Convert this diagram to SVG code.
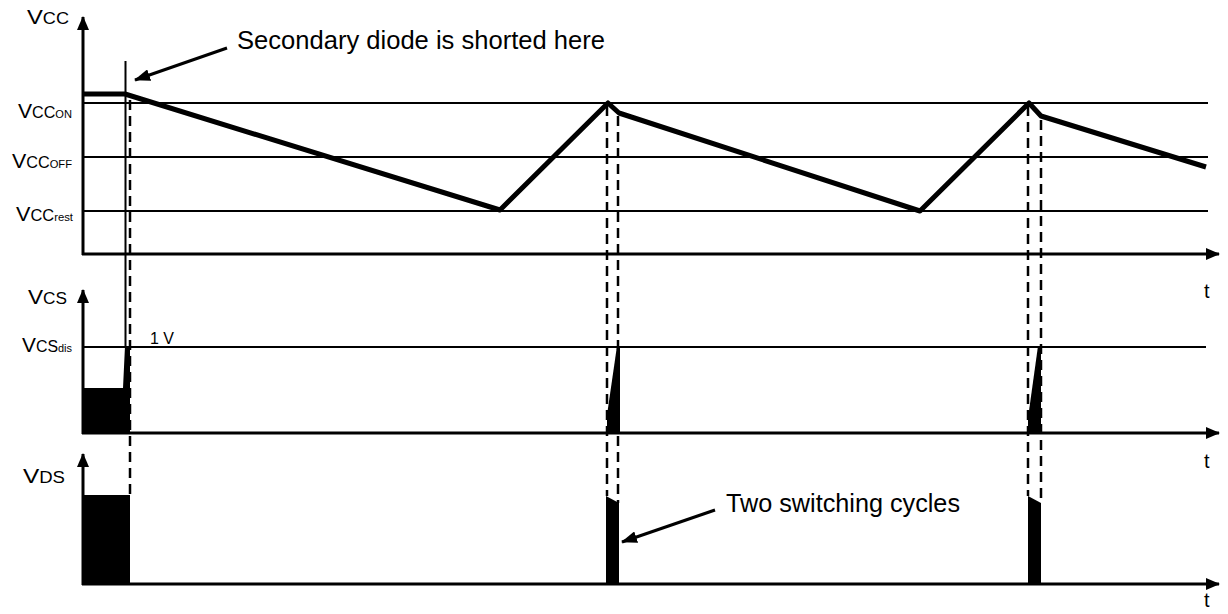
<svg xmlns="http://www.w3.org/2000/svg" width="1228" height="614" viewBox="0 0 1228 614">
<defs>
<marker id="ah" markerUnits="userSpaceOnUse" markerWidth="16" markerHeight="12" refX="15" refY="6" orient="auto"><path d="M0,0 L16,6 L0,12 Z" fill="#000"/></marker>
<marker id="ax" markerUnits="userSpaceOnUse" markerWidth="14" markerHeight="12" refX="13" refY="6" orient="auto"><path d="M0,0 L14,6 L0,12 Z" fill="#000"/></marker>
<style>
.axis{stroke:#000;stroke-width:3;fill:none;marker-end:url(#ax)}
.ref{stroke:#000;stroke-width:2;fill:none}
.wave{stroke:#000;stroke-width:5;fill:none;stroke-linejoin:round}
.dash{stroke:#000;stroke-width:2.5;fill:none;stroke-dasharray:10 6}
.blk{fill:#000;stroke:none}
.lbl{font-family:"Liberation Sans",Arial,sans-serif;fill:#000}
.ann{stroke:#000;stroke-width:3;fill:none;marker-end:url(#ah)}
</style>
</defs>
<rect width="1228" height="614" fill="#fff"/>

<g id="vcc-panel">
<line class="ref" x1="82" y1="103" x2="1208" y2="103"/>
<line class="ref" x1="82" y1="157" x2="1208" y2="157"/>
<line class="ref" x1="82" y1="211" x2="1208" y2="211"/>
<line class="axis" x1="83" y1="255" x2="83" y2="17"/>
<line class="axis" x1="82" y1="254" x2="1219" y2="254"/>
<polyline class="wave" points="83,94 125,94 500,210 608,103 619,113 920,211 1029,103 1041,116 1206,167"/>
<text class="lbl" x="27" y="24" textLength="42" lengthAdjust="spacingAndGlyphs"><tspan font-size="21">V</tspan><tspan font-size="16">CC</tspan></text>
<text class="lbl" x="18" y="118" textLength="54" lengthAdjust="spacingAndGlyphs"><tspan font-size="21">V</tspan><tspan font-size="16">CC</tspan><tspan font-size="11">ON</tspan></text>
<text class="lbl" x="12" y="168" textLength="60" lengthAdjust="spacingAndGlyphs"><tspan font-size="21">V</tspan><tspan font-size="16">CC</tspan><tspan font-size="11">OFF</tspan></text>
<text class="lbl" x="16" y="221" textLength="57" lengthAdjust="spacingAndGlyphs"><tspan font-size="21">V</tspan><tspan font-size="16">CC</tspan><tspan font-size="11">rest</tspan></text>
<text class="lbl" x="1204" y="298" font-size="20">t</text>
</g>

<g id="vcs-panel">
<line class="ref" x1="82" y1="347" x2="1206" y2="347"/>
<polygon class="blk" points="82,388 123,388 125,346 130,346 130,433 82,433"/>
<polygon class="blk" points="607,433 607,415 617,346 620,346 620,433"/>
<polygon class="blk" points="1028,433 1028,418 1038,346 1041,346 1041,433"/>
<line class="axis" x1="83" y1="434" x2="83" y2="290"/>
<line class="axis" x1="82" y1="433" x2="1219" y2="433"/>
<text class="lbl" x="28" y="304" textLength="39" lengthAdjust="spacingAndGlyphs"><tspan font-size="21">V</tspan><tspan font-size="16">CS</tspan></text>
<text class="lbl" x="22" y="352" textLength="50" lengthAdjust="spacingAndGlyphs"><tspan font-size="21">V</tspan><tspan font-size="16">CS</tspan><tspan font-size="11">dis</tspan></text>
<text class="lbl" x="150" y="344" font-size="16">1 V</text>
<text class="lbl" x="1204" y="468" font-size="20">t</text>
</g>

<g id="vds-panel">
<rect class="blk" x="82" y="495" width="48" height="89"/>
<polygon class="blk" points="606,584 606,496 619,503 619,584"/>
<polygon class="blk" points="1028,584 1028,496 1041,503 1041,584"/>
<line class="axis" x1="83" y1="585" x2="83" y2="454"/>
<line class="axis" x1="82" y1="584" x2="1219" y2="584"/>
<text class="lbl" x="23" y="483" textLength="42" lengthAdjust="spacingAndGlyphs"><tspan font-size="21">V</tspan><tspan font-size="16">DS</tspan></text>
<text class="lbl" x="1204" y="607" font-size="20">t</text>
</g>

<g id="markers">
<line class="ref" x1="125.5" y1="61" x2="125.5" y2="347"/>
<line class="dash" x1="130" y1="100" x2="130" y2="495"/>
<line class="dash" x1="607" y1="106" x2="607" y2="496"/>
<line class="dash" x1="618" y1="116" x2="618" y2="503"/>
<line class="dash" x1="1028" y1="106" x2="1028" y2="496"/>
<line class="dash" x1="1041" y1="120" x2="1041" y2="503"/>
</g>

<g id="connectors">
<line class="ann" x1="227" y1="48" x2="135" y2="80"/>
<line class="ann" x1="715" y1="510" x2="622" y2="542"/>
</g>

<g id="annotations">
<text class="lbl" x="237" y="49" font-size="25" textLength="368" lengthAdjust="spacingAndGlyphs">Secondary diode is shorted here</text>
<text class="lbl" x="726" y="512" font-size="25" textLength="234" lengthAdjust="spacingAndGlyphs">Two switching cycles</text>
</g>
</svg>
